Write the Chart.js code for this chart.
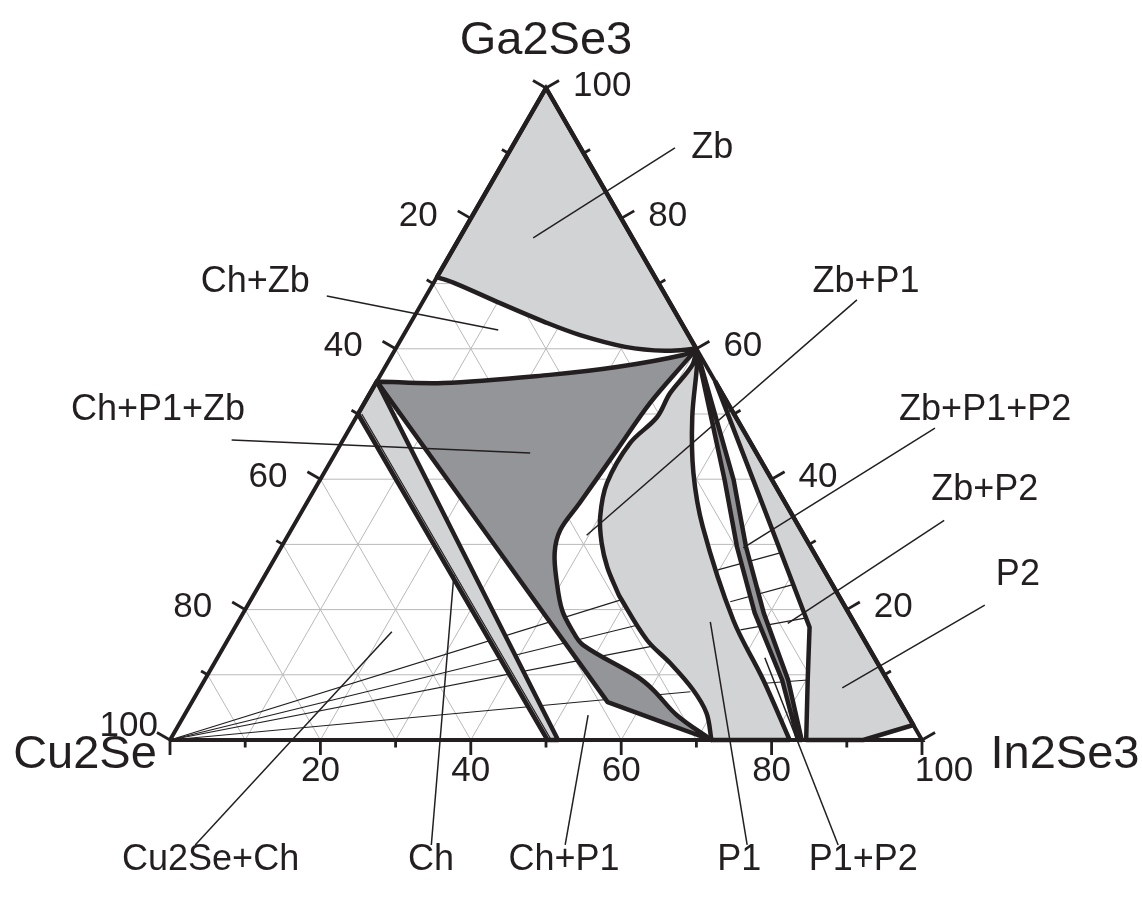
<!DOCTYPE html>
<html>
<head>
<meta charset="utf-8">
<script src="https://cdn.jsdelivr.net/npm/chart.js@4.4.1/dist/chart.umd.min.js"></script>
<style>
  html, body { margin: 0; padding: 0; background: #ffffff; }
  #wrap { width: 1142px; height: 901px; position: relative; }
</style>
</head>
<body>
<div id="wrap"><canvas id="c"></canvas></div>
<script>
// Compositions are written as [In2Se3 %, Ga2Se3 %]; Cu2Se makes up the rest.
const components = ['Cu2Se', 'In2Se3', 'Ga2Se3'];
const axisTickLabels = [20, 40, 60, 80, 100];

// Single-phase fields and the three-phase fields
const zbPhase = [[0,100],[0,71],[3,70],[10.4,67],[17.8,64.1],[23.5,62.1],[30.4,60.3],[36,59.7],[40,60],[0,100]];
const chPhase = [[0,50],[0,55],[51.6,0],[50.2,0],[0,50]];
const chInnerEdge = [[0.5,50],[50.7,0]];
const chP1ZbField = [[0,55],[8.9,54.75],[22.5,56],[30.8,57.2],[38.7,59.05],[40,60],[39.6,58.3],[38,51.7],[37.2,44.5],
  [36.3,36.3],[35.8,32.2],[36.8,28.7],[39.4,24.1],[42.2,19.9],[45,16.9],[47.6,14.6],[57.3,9.7],[60.4,7.7],[65.5,3.8],
  [72,0],[55.3,5.8],[0,55]];
const p1Phase = [[40,60],[40.7,57.5],[39.9,53.2],[40,49.5],[38.4,45.5],[38.4,39.4],[40.1,34.2],[42.3,30.2],[44.9,26.5],
  [47.9,23],[48.9,21.9],[55.8,15.3],[60.6,11.8],[65.7,7.7],[69.3,4.1],[72,0],[82.4,0],[74.3,9.2],[65.7,18.4],
  [54.5,32.7],[49.1,41],[44.7,49.5],[41.2,57.8],[40,60]];
const zbP1P2Field = [[40,60],[53.8,39.9],[60.6,29.6],[68,19.5],[76.8,9.2],[83.5,0],[84,0],[77.6,9.2],[69.2,19.5],
  [61.8,29.6],[55,39.9],[40,60]];
const p2Phase = [[45,55],[97.7,2.3],[92.2,0],[84.6,0],[80.2,9.2],[76.4,17.3],[57.6,39.9],[45,55]];

// Tie lines
const cu2seTieEnds = [[49.2,21.5],[53.3,17.6],[57,14.4],[65.5,7.4]];
const p1p2TieStarts = [[59.8,26.1],[63.9,21.2],[67.4,16.9],[74.75,8.7]];
const p1p2TieEnds = [[66.8,28.7],[70.8,23.8],[75.1,18.7],[80.2,9.2]];

// Field names, where they sit and where their pointers end
const fieldNames = ['Zb','Ch+Zb','Zb+P1','Ch+P1+Zb','Zb+P1+P2','Zb+P2','P2','Cu2Se+Ch','Ch','Ch+P1','P1','P1+P2'];
const nameAt = [[26.7,90.8],[-23.8,70.3],[57.4,70.3],[-26.9,50.6],[83.1,50.6],[89.2,38.3],[100.1,25.3],
  [14.6,-18.4],[43.9,-18.4],[61.6,-18.4],[84.9,-18.4],[101.4,-18.4]];
const pointerFrom = [[21.75,90.8],[-13.2,68.1],[57.6,67.5],[-14.8,46],[77.8,47.85],[86.1,33.7],[98,20.7],
  [11.4,-16.1],[42.8,-16.1],[60.6,-16.1],[84.8,-16.1],[96.9,-16.1]];
const pointerTo = [[9.8,77],[12.2,62.9],[39.7,31.4],[25.9,44],[61.5,29.45],[73.2,17.9],[85.4,8],
  [21.2,16.6],[25.1,25.3],[53.7,3.8],[62.8,18.1],[72.8,12.6]];

// ---- drawing ----
const INK = '#231f20';
const LIGHT = '#d1d3d4';
const DARK = '#939598';
const GRID = '#b9b9b9';
const FONT = '"Liberation Sans", Arial, Helvetica, sans-serif';

const SQ = Math.sqrt(3) / 2;
function cart(a, g) { return { x: a + g / 2, y: g * SQ }; }
const toData = pts => pts.map(([a, g]) => cart(a, g));
// vertices listed in `corners` are doubled so a smoothed outline keeps a sharp corner there
function smoothData(pts, corners) {
  const out = [];
  pts.forEach(([a, g], i) => {
    out.push(cart(a, g));
    if (corners.includes(i)) out.push(cart(a, g));
  });
  return out;
}

// plot frame: the Cu2Se corner and the triangle size on the canvas
const W = 1142, H = 901, ORIGIN_X = 170, ORIGIN_Y = 740, SIDE = 752, HEIGHT_PX = 652;
const kx = SIDE / 100, ky = HEIGHT_PX / (100 * SQ);

const datasets = [];
function addLine(pts, opts, layer) {
  datasets.push(Object.assign({
    data: toData(pts), borderColor: INK, borderWidth: 1, pointRadius: 0, pointHoverRadius: 0,
    fill: false, tension: 0, borderJoinStyle: 'round', borderCapStyle: 'butt', clip: false,
    order: 20 - layer
  }, opts));
}

// grid every 10 %
for (let k = 10; k < 100; k += 10) {
  addLine([[0,k],[100-k,k]], { borderColor: GRID, borderWidth: 1 }, 0);
  addLine([[k,0],[k,100-k]], { borderColor: GRID, borderWidth: 1 }, 0);
  addLine([[100-k,0],[0,100-k]], { borderColor: GRID, borderWidth: 1 }, 0);
}

// tie lines
cu2seTieEnds.forEach(e => addLine([[0,0], e], { borderWidth: 1.2 }, 1));
p1p2TieStarts.forEach((s, i) => addLine([s, p1p2TieEnds[i]], { borderWidth: 1.2 }, 1));

// phase fields
const fieldStyle = (c, extra) => Object.assign({ backgroundColor: c, fill: 'shape', borderWidth: 4.5 }, extra || {});
addLine(chPhase, fieldStyle(LIGHT), 2);
addLine(chInnerEdge, { borderWidth: 1.2 }, 3);
addLine(chP1ZbField, fieldStyle(DARK, { data: smoothData(chP1ZbField, [0, 5, 19, 20, 21]), tension: 0.35 }), 2);
addLine(p1Phase, fieldStyle(LIGHT, { data: smoothData(p1Phase, [0, 15, 16, 23]), tension: 0.35 }), 2);
addLine(zbP1P2Field, fieldStyle(DARK), 2);
addLine(p2Phase, fieldStyle(LIGHT), 2);
addLine(zbPhase, fieldStyle(LIGHT, { data: smoothData(zbPhase, [0, 1, 8, 9]), tension: 0.35 }), 2);

// triangle frame
addLine([[0,0],[100,0],[0,100],[0,0]], { borderWidth: 4, borderJoinStyle: 'miter' }, 4);

// ticks: every 10 %, longer every 20 %
for (let k = 0; k <= 100; k += 10) {
  const len = k % 20 === 0 ? 2.0 : 1.0;
  const b = cart(k, 0), l = cart(0, 100 - k), r = cart(100 - k, k);
  [[b, 0, -1], [l, -SQ, 0.5], [r, SQ, 0.5]].forEach(([p, dx, dy]) => {
    datasets.push({
      data: [p, { x: p.x + dx * len, y: p.y + dy * len }], borderColor: INK, borderWidth: 2.8,
      pointRadius: 0, fill: false, tension: 0, borderCapStyle: 'butt', clip: false, order: 16
    });
  });
}

// pointers from names to fields
pointerFrom.forEach((p, i) => addLine([p, pointerTo[i]], { borderWidth: 1.5 }, 5));

const textPlugin = {
  id: 'ternaryText',
  afterDraw(chart) {
    const { ctx } = chart;
    const sx = chart.scales.x, sy = chart.scales.y;
    const px = (a, g) => { const c = cart(a, g); return [sx.getPixelForValue(c.x), sy.getPixelForValue(c.y)]; };
    ctx.save();
    ctx.fillStyle = INK;
    ctx.textBaseline = 'middle';

    // axis values
    ctx.font = '35px ' + FONT;
    axisTickLabels.forEach(v => {
      // Cu2Se along the left side
      let [x, y] = px(0, 100 - v);
      ctx.textAlign = 'right';
      if (v === 100) ctx.fillText(String(v), x - 12, y - 14);
      else ctx.fillText(String(v), x - 33, y - 2);
      // Ga2Se3 along the right side
      [x, y] = px(100 - v, v);
      ctx.textAlign = 'left';
      ctx.fillText(String(v), x + 27, y - 2);
      // In2Se3 along the base
      [x, y] = px(v, 0);
      ctx.textAlign = 'center';
      ctx.fillText(String(v), x + (v === 100 ? 22 : 0), y + 31);
    });

    // component names at the corners
    ctx.font = '47px ' + FONT;
    ctx.textAlign = 'center';
    let [x, y] = px(0, 0);
    ctx.fillText(components[0], x - 85, y + 15);
    [x, y] = px(100, 0);
    ctx.fillText(components[1], x + 143, y + 15);
    [x, y] = px(0, 100);
    ctx.fillText(components[2], x, y - 47);

    // field names
    ctx.font = '36px ' + FONT;
    fieldNames.forEach((t, i) => {
      const [lx, ly] = px(nameAt[i][0], nameAt[i][1]);
      ctx.fillText(t, lx, ly);
    });
    ctx.restore();
  }
};

new Chart(document.getElementById('c'), {
  type: 'line',
  data: { datasets },
  options: {
    responsive: true,
    maintainAspectRatio: false,
    devicePixelRatio: 1,
    animation: false,
    events: [],
    layout: { padding: 0 },
    plugins: { legend: { display: false }, tooltip: { enabled: false }, filler: { drawTime: 'beforeDatasetDraw' } },
    scales: {
      x: { type: 'linear', display: false, min: -ORIGIN_X / kx, max: (W - ORIGIN_X) / kx },
      y: { type: 'linear', display: false, min: -(H - ORIGIN_Y) / ky, max: ORIGIN_Y / ky }
    }
  },
  plugins: [textPlugin]
});
</script>
</body>
</html>
